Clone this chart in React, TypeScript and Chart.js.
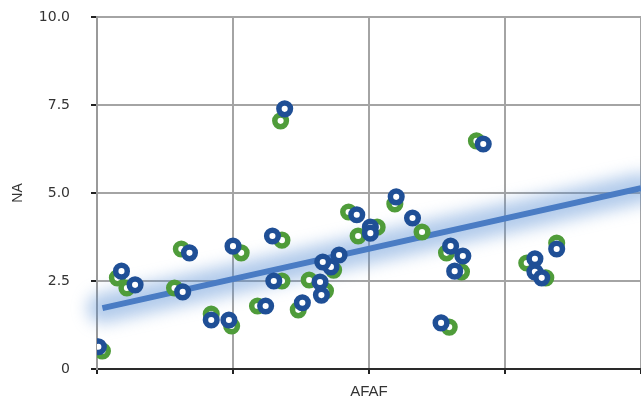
import React, { useEffect, useRef } from "react";
import { Chart, registerables } from "chart.js";

Chart.register(...registerables);

// Navy series (AFAF, NA)
const navyX = [0.01, 0.18, 0.28, 0.63, 0.68, 0.84, 0.97, 1.0, 1.24, 1.29, 1.38, 1.3, 1.51, 1.65, 1.64, 1.72, 1.66, 1.78, 1.91, 2.01, 2.01, 2.2, 2.32, 2.53, 2.6, 2.69, 2.63, 2.84, 3.22, 3.22, 3.27, 3.38];
const navyY = [0.63, 2.78, 2.39, 2.19, 3.3, 1.39, 1.39, 3.49, 1.79, 3.78, 7.39, 2.5, 1.88, 2.1, 2.47, 2.9, 3.04, 3.24, 4.38, 4.03, 3.86, 4.89, 4.29, 1.31, 3.49, 3.21, 2.78, 6.39, 3.13, 2.76, 2.59, 3.41];

// Green series (AFAF, NA)
const greenX = [0.04, 0.22, 0.15, 0.57, 0.62, 0.84, 0.99, 1.06, 1.18, 1.36, 1.35, 1.36, 1.48, 1.68, 1.56, 1.74, 1.85, 1.92, 2.06, 2.19, 2.39, 2.59, 2.57, 2.68, 2.79, 3.16, 3.3, 3.38];
const greenY = [0.51, 2.3, 2.59, 2.3, 3.41, 1.56, 1.22, 3.3, 1.79, 3.66, 7.05, 2.5, 1.68, 2.22, 2.53, 2.81, 4.46, 3.78, 4.03, 4.69, 3.89, 1.19, 3.3, 2.76, 6.48, 3.01, 2.59, 3.58];

// Trend line
const trendX = [0.04, 4.0];
const trendY = [1.73, 5.14];

const yTicks = [0, 2.5, 5, 7.5, 10];
const xTicks = [0, 1, 2, 3, 4];

const zip = (xs: number[], ys: number[]) => xs.map((x, i) => ({ x, y: ys[i] }));

const glowPlugin = {
  id: "trendGlow",
  beforeDatasetsDraw(chart: any) {
    const { ctx, scales } = chart;
    const xs = scales.x;
    const ys = scales.y;
    ctx.save();
    ctx.filter = "blur(8px)";
    ctx.strokeStyle = "rgba(85,140,210,0.45)";
    ctx.lineWidth = 30;
    ctx.lineCap = "round";
    ctx.beginPath();
    trendX.forEach((x, i) => {
      const px = xs.getPixelForValue(x);
      const py = ys.getPixelForValue(trendY[i]);
      if (i === 0) ctx.moveTo(px, py);
      else ctx.lineTo(px, py);
    });
    ctx.stroke();
    ctx.restore();
  },
};

export default function App() {
  const ref = useRef<HTMLCanvasElement | null>(null);
  useEffect(() => {
    if (!ref.current) return;
    const chart = new Chart(ref.current, {
      type: "scatter",
      plugins: [glowPlugin],
      data: {
        datasets: [
          {
            label: "navy",
            data: zip(navyX, navyY),
            backgroundColor: "#ffffff",
            borderColor: "#1f4f96",
            borderWidth: 5.5,
            pointRadius: 5.8,
            pointHoverRadius: 5.8,
            order: 0,
          },
          {
            label: "green",
            data: zip(greenX, greenY),
            backgroundColor: "#ffffff",
            borderColor: "#4f9c3a",
            borderWidth: 5.5,
            pointRadius: 5.8,
            pointHoverRadius: 5.8,
            order: 1,
          },
          {
            type: "line",
            label: "trend",
            data: zip(trendX, trendY),
            borderColor: "#4a7cc4",
            borderWidth: 6,
            pointRadius: 0,
            order: 5,
          } as any,
        ],
      },
      options: {
        animation: false,
        responsive: false,
        devicePixelRatio: 1,
        layout: { autoPadding: false, padding: { top: 17, right: 0, left: 0, bottom: 0 } },
        plugins: { legend: { display: false }, tooltip: { enabled: false } },
        scales: {
          x: {
            type: "linear",
            min: 0,
            max: 4,
            afterBuildTicks: (s: any) => {
              s.ticks = xTicks.map((v) => ({ value: v }));
            },
            afterFit: (s: any) => {
              s.height = 30;
              s.paddingLeft = 0;
              s.paddingRight = 0;
            },
            ticks: { display: false },
            grid: {
              color: "#a4a4a4",
              lineWidth: 2,
              tickLength: 5,
              tickColor: "#222",
              tickWidth: 2,
            },
            border: { color: "#2a2a2a", width: 2 },
            title: {
              display: true,
              text: "AFAF",
              color: "#333",
              font: { family: "Liberation Sans, Arial, sans-serif", size: 15, lineHeight: 1 },
              padding: { top: 0, bottom: 0 },
            },
          },
          y: {
            type: "linear",
            min: 0,
            max: 10,
            afterBuildTicks: (s: any) => {
              s.ticks = yTicks.map((v) => ({ value: v }));
            },
            afterFit: (s: any) => {
              s.width = 97;
              s.paddingTop = 0;
              s.paddingBottom = 0;
            },
            ticks: {
              padding: 21,
              color: "#333",
              font: { family: "DejaVu Sans, sans-serif", size: 14 },
              callback: (v: any) => (Number(v) === 0 ? "0" : Number(v).toFixed(1)),
            },
            grid: {
              color: "#a4a4a4",
              lineWidth: 2,
              tickLength: 6,
              tickColor: "#222",
              tickWidth: 2,
            },
            border: { color: "#9a9a9a", width: 2 },
            title: {
              display: true,
              text: "NA",
              color: "#333",
              font: { family: "Liberation Sans, Arial, sans-serif", size: 14, lineHeight: 1.2 },
              padding: { top: 10, bottom: 0 },
            },
          },
        },
      } as any,
    });
    return () => chart.destroy();
  }, []);
  return (
    <div style={{ position: "absolute", left: 0, top: 0, width: 641, height: 399, background: "#fff" }}>
      <canvas ref={ref} width={641} height={399} />
    </div>
  );
}
